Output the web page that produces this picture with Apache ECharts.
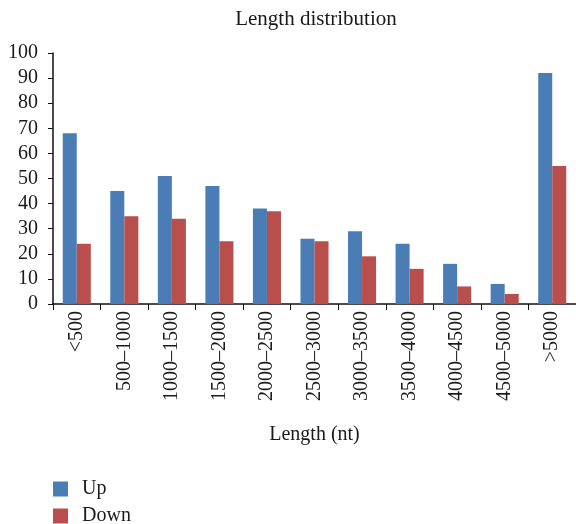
<!DOCTYPE html>
<html>
<head>
<meta charset="utf-8">
<script src="https://cdn.jsdelivr.net/npm/echarts@6/dist/echarts.min.js"></script>
<style>html,body{margin:0;padding:0;background:#fff}#c{width:576px;height:524px}</style>
</head>
<body>
<div id="c"></div>
<script>
const categories = ["<500","500\u20131000","1000\u20131500","1500\u20132000","2000\u20132500","2500\u20133000","3000\u20133500","3500\u20134000","4000\u20134500","4500\u20135000",">5000"];
const upValues = [68,45,51,47,38,26,29,24,16,8,92];
const downValues = [24,35,34,25,37,25,19,14,7,4,55];
const yTicks = {min:0,max:100,interval:10};
const seriesNames = ['Up','Down'];

const font = "'Liberation Serif', 'DejaVu Serif', serif";
const legendBase = {orient:'vertical',left:53,padding:0,itemWidth:15,itemHeight:15,icon:'rect',
    textStyle:{fontFamily:font,fontSize:20,color:'#1a1a1a',padding:[0,0,0,9]}};
const chart = echarts.init(document.getElementById('c'));
chart.setOption({
  animation:false,
  backgroundColor:'#fff',
  title:{text:'Length distribution',left:316,textAlign:'center',top:9,padding:0,textStyle:{fontFamily:font,fontSize:21,fontWeight:'normal',color:'#1a1a1a'}},
  legend:[
    Object.assign({top:479,data:[seriesNames[0]]},legendBase),
    Object.assign({top:506,data:[seriesNames[1]]},legendBase)
  ],
  grid:{left:53,right:0,top:53,bottom:220,containLabel:false},
  xAxis:{type:'category',data:categories,
    name:'Length (nt)',nameLocation:'middle',nameGap:121,nameTextStyle:{fontFamily:font,fontSize:20,color:'#1a1a1a'},
    axisLine:{lineStyle:{color:'#111',width:1.5}},
    axisTick:{show:true,length:6,lineStyle:{color:'#111'}},
    axisLabel:{rotate:90,fontFamily:font,fontSize:20,color:'#1a1a1a',margin:7}},
  yAxis:{type:'value',min:yTicks.min,max:yTicks.max,interval:yTicks.interval,
    splitLine:{show:false},
    axisLine:{show:true,lineStyle:{color:'#111',width:1.5}},
    axisTick:{show:true,length:5,lineStyle:{color:'#111'}},
    axisLabel:{fontFamily:font,fontSize:20,color:'#1a1a1a',margin:15}},
  series:[
    {name:seriesNames[0],type:'bar',data:upValues,barGap:'0%',barCategoryGap:'41%',itemStyle:{color:'#4a7db6'}},
    {name:seriesNames[1],type:'bar',data:downValues,barGap:'0%',barCategoryGap:'41%',itemStyle:{color:'#b94f4c'}}
  ]
});
</script>
</body>
</html>
